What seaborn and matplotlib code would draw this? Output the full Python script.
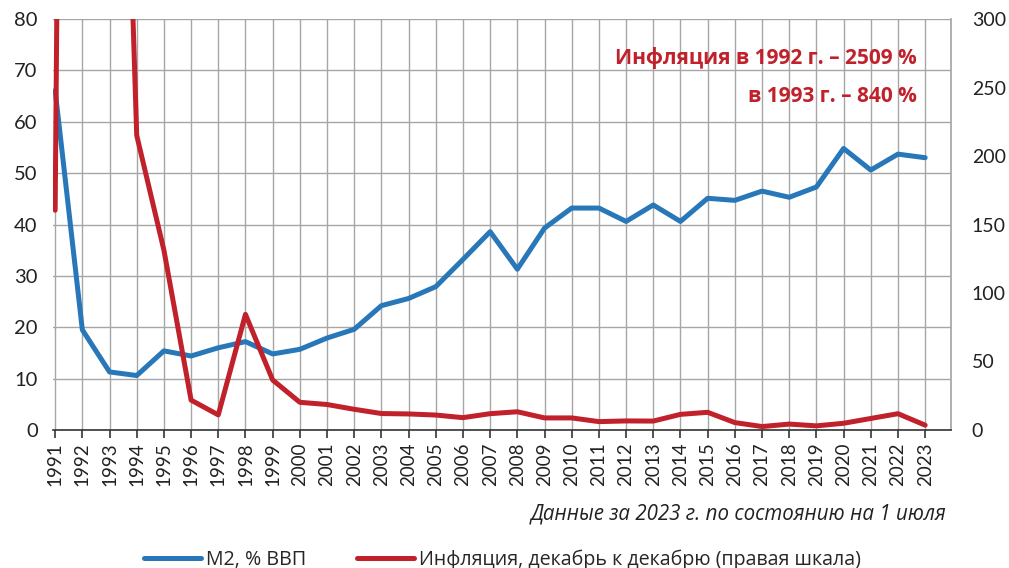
import numpy as np
import pandas as pd
import matplotlib
matplotlib.use("Agg")
import matplotlib.pyplot as plt
import seaborn as sns

# Data
years = list(range(1991, 2024))
m2_gdp = [66.1, 19.5, 11.3, 10.6, 15.4, 14.4, 16.0, 17.2, 14.8, 15.7,
          17.9, 19.6, 24.2, 25.6, 27.9, 33.2, 38.6, 31.3, 39.3, 43.2,
          43.2, 40.6, 43.8, 40.6, 45.1, 44.7, 46.5, 45.3, 47.3, 54.8,
          50.6, 53.7, 53.0]
inflation = [160.4, 2509.0, 840.0, 215.1, 131.3, 21.8, 11.0, 84.4, 36.5, 20.2,
             18.6, 15.1, 12.0, 11.7, 10.9, 9.0, 11.9, 13.3, 8.8, 8.8,
             6.1, 6.6, 6.5, 11.4, 12.9, 5.4, 2.5, 4.3, 3.0, 4.9,
             8.4, 11.9, 3.5]
left_ticks = [0, 10, 20, 30, 40, 50, 60, 70, 80]
right_ticks = [0, 50, 100, 150, 200, 250, 300]

m2_label = "M2, % ВВП"
infl_label = "Инфляция, декабрь к декабрю (правая шкала)"
note = "Данные за 2023 г. по состоянию на 1 июля"
annot1 = "Инфляция в 1992 г. – 2509 %"
annot2 = "в 1993 г. – 840 %"

blue = "#2777B9"
red = "#C0212B"
grid_col = "#A6A6A6"
text_col = "#222222"
wide_font = ["Open Sans", "DejaVu Sans"]

df = pd.DataFrame({"idx": np.arange(len(years)), "m2": m2_gdp, "infl": inflation})

sns.set_theme(style="white")
plt.rcParams["font.family"] = ["Lato", "Open Sans", "DejaVu Sans"]

fig = plt.figure(figsize=(10.09, 5.68), dpi=100)
ax = fig.add_axes([0.0525, 0.243, 0.89, 0.7235])
ax2 = ax.twinx()

sns.lineplot(data=df, x="idx", y="m2", ax=ax, color=blue, linewidth=3.6,
             label=m2_label, legend=False, zorder=3)
sns.lineplot(data=df, x="idx", y="infl", ax=ax2, color=red, linewidth=3.6,
             label=infl_label, legend=False, zorder=3)

ax.set_xlim(-0.08, len(years) - 1 + 0.95)
ax.set_ylim(0, 80)
ax2.set_ylim(0, 300)

ax.set_yticks(left_ticks)
ax2.set_yticks(right_ticks)
ax.set_xticks(np.arange(len(years)))
ax.set_xticklabels([str(y) for y in years], rotation=90)

# grid
ax.grid(True, axis="both", color=grid_col, linewidth=1.0)
ax.set_axisbelow(True)
ax2.grid(False)

for a in (ax, ax2):
    for s in ("top", "left", "right", "bottom"):
        a.spines[s].set_visible(False)
ax.spines["bottom"].set_visible(True)
ax.spines["bottom"].set_color("#333333")
ax.spines["bottom"].set_linewidth(1.2)
ax.spines["right"].set_visible(True)
ax.spines["right"].set_color(grid_col)

ax.tick_params(axis="x", direction="out", length=6, width=1.2, color="#333333",
               labelsize=13.5, pad=3, labelcolor=text_col, bottom=True)
ax.tick_params(axis="y", length=0, labelsize=14.5, pad=11, labelcolor=text_col)
ax2.tick_params(axis="y", length=0, labelsize=14, pad=15, labelcolor=text_col)

ax.set_xlabel("")
ax.set_ylabel("")
ax2.set_ylabel("")

# annotation
ax.text(0.962, 0.905, annot1, transform=ax.transAxes, ha="right", va="center",
        color=red, fontsize=15, fontweight="bold", family=wide_font)
ax.text(0.962, 0.812, annot2, transform=ax.transAxes, ha="right", va="center",
        color=red, fontsize=15, fontweight="bold", family=wide_font)

fig.text(0.938, 0.095, note, ha="right", va="center", fontsize=14.8,
         style="italic", color=text_col, family=wide_font)

h1, l1 = ax.get_legend_handles_labels()
h2, l2 = ax2.get_legend_handles_labels()
fig.legend(h1 + h2, l1 + l2, loc="center left", bbox_to_anchor=(0.135, 0.015),
           ncol=2, frameon=False, handlelength=2.9,
           handletextpad=0.25, columnspacing=2.6, borderaxespad=0,
           prop={"family": wide_font, "size": 14.1})

fig.savefig("out.png", dpi=100)
